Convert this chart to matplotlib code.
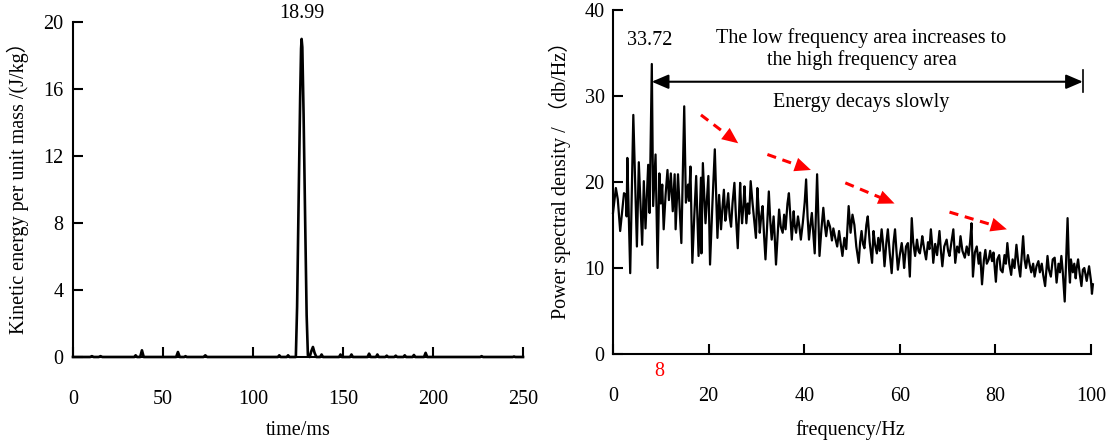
import numpy as np
import matplotlib.pyplot as plt

plt.rcParams['font.family'] = ['Liberation Serif', 'Noto Sans CJK SC']
plt.rcParams['font.size'] = 14.5

# left: kinetic energy per unit mass vs time
time_ms = [0, 9.5, 10.5, 11.5, 14.3, 15.3, 16.3, 34.0, 34.8, 35.6, 37.3, 38.3, 39.3,
           57.3, 58.3, 59.3, 61.8, 62.5, 63.2, 72.5, 73.5, 74.5, 113.8, 114.6, 115.4,
           118.7, 119.5, 120.3, 123.8, 124.5, 125.3, 126.2, 126.7, 127.0, 127.4, 128.1,
           129.0, 129.8, 130.5, 131.5, 132.4, 133.3, 134.2, 135.2, 137.3, 138.1, 138.9,
           147.8, 148.6, 149.4, 153.9, 154.7, 155.5, 163.6, 164.5, 165.4, 168.3, 169.1,
           169.9, 173.5, 174.3, 175.1, 178.5, 179.3, 180.1, 183.5, 184.3, 185.1,
           188.6, 189.4, 190.2, 195.0, 195.9, 196.8, 226.2, 227.0, 227.8, 244.3, 245.0,
           245.7, 250]
energy = [0, 0, 0.05, 0, 0, 0.05, 0, 0, 0.1, 0, 0, 0.4, 0,
          0, 0.3, 0, 0, 0.05, 0, 0, 0.1, 0, 0, 0.1, 0,
          0, 0.1, 0, 0, 3.0, 9.0, 15.5, 18.4, 18.99, 18.5, 14.5,
          8.0, 2.5, 0.1, 0, 0.35, 0.6, 0.25, 0, 0, 0.15, 0,
          0, 0.15, 0, 0, 0.15, 0, 0, 0.2, 0, 0, 0.15,
          0, 0, 0.08, 0, 0, 0.08, 0, 0, 0.1, 0,
          0, 0.12, 0, 0, 0.25, 0, 0, 0.05, 0, 0, 0.03,
          0, 0]
left_xticks = [0, 50, 100, 150, 200, 250]
left_yticks = [0, 4, 8, 12, 16, 20]

# right: power spectral density vs frequency
freq = [0.0, 0.6, 1.0, 1.5, 2.0, 2.3, 2.7, 2.85, 3.0, 3.6, 4.25, 5.0, 5.4, 6.1, 6.45, 6.8,
        7.36, 7.66, 8.12, 8.4, 8.9, 9.33, 9.7, 10.0, 10.3, 10.6, 11.0, 11.4, 11.7, 12.1,
        12.5, 12.9, 13.1, 13.6, 14.3, 14.9, 15.25, 15.7, 15.9, 16.2, 16.6, 17.0, 17.4,
        17.9, 18.4, 18.5, 18.8, 19.35, 19.95, 20.3, 20.8, 21.3, 21.85,
        22.2, 22.6, 22.9, 23.2, 23.5, 23.7, 24.1, 24.4, 24.7, 25.0, 25.4, 25.7, 26.1,
        26.6, 26.8, 27.0, 27.3, 27.5, 27.9, 28.2, 28.5, 28.8, 29.2, 29.5, 29.9, 30.2,
        30.5, 30.7, 31.0, 31.3, 31.6, 31.9, 32.3, 32.6, 32.9, 33.2, 33.6, 33.8, 34.1,
        34.75, 35.1, 35.5, 35.8, 36.1, 36.5, 36.8, 37.1, 37.4, 37.8, 38.0, 38.3, 38.7,
        39.0, 39.3, 39.7, 40.1, 40.4, 40.7, 41.0, 41.3, 41.6, 41.9, 42.2, 42.7, 43.2,
        43.6, 44.0, 44.3, 44.6, 45.0, 45.4, 45.8, 46.1, 46.5, 46.9, 47.3, 47.6, 48.0,
        48.4, 48.8, 49.3, 49.7, 50.1, 50.5, 50.9, 51.4, 51.7, 52.0, 52.3, 52.6, 53.0,
        53.3, 53.7, 54.2, 54.5, 54.8, 55.2, 55.5, 55.8, 56.2, 56.5, 56.8, 57.2, 57.5,
        57.9, 58.3, 58.7, 59.0, 59.3, 59.6, 60.0, 60.4, 60.7, 60.9, 61.3, 61.7, 62.1,
        62.5, 62.8, 63.2, 63.6, 63.9, 64.2, 64.5, 64.7, 65.1, 65.5, 65.9, 66.2, 66.5,
        66.8, 67.0, 67.4, 67.8, 68.3, 68.6, 68.9, 69.3, 69.8, 70.1, 70.4, 70.8, 71.2,
        71.6, 72.0, 72.4, 72.7, 73.1, 73.6, 74.0, 74.4, 74.7, 75.0, 75.3, 75.7, 76.1,
        76.5, 76.8, 77.2, 77.6, 77.9, 78.2, 78.6, 78.9, 79.3, 79.6, 80.1, 80.4, 80.8,
        81.1, 81.5, 81.9, 82.2, 82.5, 82.9, 83.3, 83.6, 84.0, 84.4, 84.8, 85.2, 85.8,
        86.1, 86.4, 86.8, 87.1, 87.5, 87.9, 88.2, 88.6, 89.0, 89.3, 89.7, 90.0, 90.4,
        90.9, 91.2, 91.6, 92.0, 92.4, 92.8, 93.2, 93.5, 93.8, 94.1, 94.5, 95.1, 95.4,
        95.6, 95.8, 96.2, 96.5, 96.8, 97.0, 97.3, 97.6, 98.0, 98.3, 98.6, 99.1, 99.6,
        100.0, 100.2, 100.4]
psd = [16.4, 19.3, 18.0, 14.3, 17.0, 18.7, 18.5, 16.0, 22.8, 9.4, 27.8, 12.5, 22.3, 12.7, 20.1, 14.6,
       22.0, 16.4, 33.72, 17.2, 23.2, 10.0, 21.0, 17.5, 19.7, 14.5, 18.5, 21.4, 17.9, 21.0,
       16.6, 20.9, 14.5, 20.9, 12.9, 28.8, 17.6, 19.7, 17.8, 21.8, 10.6, 16.0, 20.7,
       11.4, 20.5, 11.7, 22.2, 15.2, 20.7, 10.4, 17.5, 23.8, 13.5,
       18.5, 14.5, 17.0, 19.1, 15.5, 16.4, 18.7, 16.0, 14.8, 17.5, 19.9, 16.2, 12.3,
       19.9, 17.0, 15.2, 17.4, 19.5, 15.2, 17.5, 16.3, 20.1, 17.5, 15.8, 13.5, 19.3,
       16.5, 14.1, 16.0, 17.2, 13.8, 11.0, 15.5, 18.9, 15.5, 13.3, 16.0, 14.0, 10.4,
       16.8, 14.8, 14.1, 16.2, 14.5, 17.5, 18.7, 16.0, 13.3, 16.6, 15.0, 14.1, 16.0,
       14.8, 13.3, 15.2, 17.6, 20.3, 16.0, 13.3, 15.0, 16.4, 14.0, 11.7, 20.9, 11.4,
       14.5, 17.0, 15.0, 13.7, 15.5, 14.8, 13.2, 14.6, 13.5, 12.5, 14.3, 13.0, 11.4,
       13.5, 12.2, 17.2, 14.1, 16.2, 15.0, 12.5, 10.6, 13.0, 14.3, 12.8, 12.3, 15.0,
       16.0, 13.0, 10.6, 14.3, 12.8, 11.7, 13.5, 12.0, 14.5, 12.8, 10.2, 13.0, 14.5,
       11.7, 9.4, 13.0, 14.5, 12.0, 9.8, 11.5, 12.9, 11.5, 10.0, 12.5, 12.9, 9.0,
       15.8, 13.0, 11.4, 13.3, 12.0, 11.7, 12.8, 13.7, 12.2, 11.0, 13.0, 12.2, 14.5,
       12.5, 10.6, 12.8, 11.5, 14.3, 12.0, 10.2, 12.5, 13.3, 12.0, 11.4, 13.0, 14.5,
       10.6, 12.5, 11.8, 13.7, 12.0, 11.2, 12.5, 11.5, 13.0, 15.2, 9.0, 11.8, 12.5,
       10.5, 11.8, 8.1, 11.0, 12.1, 10.5, 11.0, 12.0, 10.8, 11.8, 8.4, 11.0, 11.5,
       9.8, 9.5, 11.5, 10.5, 12.9, 10.5, 9.2, 11.0, 10.0, 12.7, 10.5, 9.0, 13.7,
       11.0, 10.0, 11.5, 10.6, 9.5, 10.5, 9.0, 10.2, 10.8, 9.5, 10.5, 9.2, 7.9,
       11.4, 9.8, 9.0, 11.0, 11.2, 8.3, 10.5, 9.5, 11.4, 9.5, 6.1, 15.8, 10.0,
       8.3, 11.0, 9.5, 10.5, 8.8, 10.0, 11.0, 9.5, 7.9, 9.8, 10.0, 8.5, 10.2,
       8.5, 7.0, 8.1]
right_xticks = [0, 20, 40, 60, 80, 100]
right_yticks = [0, 10, 20, 30, 40]

# red trend arrows (start f, start v, end f, end v)
trend_arrows = [(18.4, 27.8, 26.2, 24.5),
                (32.3, 23.2, 41.4, 21.4),
                (48.6, 19.9, 58.9, 17.5),
                (70.4, 16.5, 82.4, 14.5)]

fig = plt.figure(figsize=(11.09, 4.42), dpi=100)

# ---- left panel
ax1 = fig.add_axes([73/1109, 85/442, 450/1109, 335/442])
ax1.plot(time_ms, energy, color='black', lw=1.9, clip_on=False)
ax1.set_xlim(0, 250)
ax1.set_ylim(0, 20)
ax1.set_xticks(left_xticks)
ax1.set_yticks(left_yticks)
ax1.spines['top'].set_visible(False)
ax1.spines['right'].set_visible(False)
for s in ['left', 'bottom']:
    ax1.spines[s].set_linewidth(1.5)
ax1.tick_params(axis='both', direction='in', length=7, width=1.5)
ax1.tick_params(axis='x', pad=24)
ax1.tick_params(axis='y', pad=7)
ax1.set_xlabel('time/ms', va='center')
ax1.xaxis.set_label_coords(0.5, -0.218)
ax1.set_ylabel('Kinetic energy per unit mass /(J/kg\uff09', va='center')
ax1.yaxis.set_label_coords(-0.122, 0.52)
ax1.text(127, 20.5, '18.99', ha='center', va='center')

# ---- right panel
ax2 = fig.add_axes([613/1109, 88/442, 478/1109, 344/442])
ax2.plot(freq, psd, color='black', lw=1.6, clip_on=False)
ax2.set_xlim(0, 100)
ax2.set_ylim(0, 40)
ax2.set_xticks(right_xticks)
ax2.set_yticks(right_yticks)
ax2.spines['top'].set_visible(False)
ax2.spines['right'].set_visible(False)
for s in ['left', 'bottom']:
    ax2.spines[s].set_linewidth(1.5)
ax2.tick_params(axis='both', direction='in', length=7, width=1.5)
ax2.tick_params(axis='x', pad=24)
ax2.tick_params(axis='y', pad=6)
ax2.set_xlabel('frequency/Hz', va='center')
ax2.xaxis.set_label_coords(0.496, -0.221)
ax2.set_ylabel('Power spectral density / \uff08db/Hz\uff09', va='center')
ax2.yaxis.set_label_coords(-0.111, 0.52)

ax2.text(7.6, 36.4, '33.72', ha='center', va='center')
ax2.text(9.6, -2.0, '8', color='red', ha='center', va='center')
ax2.text(52, 35.5, 'The low frequency area increases to\nthe high frequency area',
         ha='center', va='center', linespacing=1.15)
ax2.text(52, 29.2, 'Energy decays slowly', ha='center', va='center')

# double arrow + end bar
ax2.annotate('', xy=(8.1, 31.66), xytext=(98.3, 31.66),
             arrowprops=dict(arrowstyle='<|-|>,head_length=0.7,head_width=0.3',
                             color='black', lw=1.5, shrinkA=0, shrinkB=0))
ax2.plot([98.3, 98.3], [30.5, 33.0], color='black', lw=1.2)

for x0, y0, x1, y1 in trend_arrows:
    ax2.plot([x0, x0 + 0.8 * (x1 - x0)], [y0, y0 + 0.8 * (y1 - y0)],
             color='red', lw=2.2, dashes=(3, 2.2))
    ax2.annotate('', xy=(x1, y1), xytext=(x0 + 0.7 * (x1 - x0), y0 + 0.7 * (y1 - y0)),
                 arrowprops=dict(arrowstyle='-|>,head_length=0.8,head_width=0.35',
                                 color='red', lw=0, shrinkA=0, shrinkB=0))

fig.savefig('out.png', dpi=100)
